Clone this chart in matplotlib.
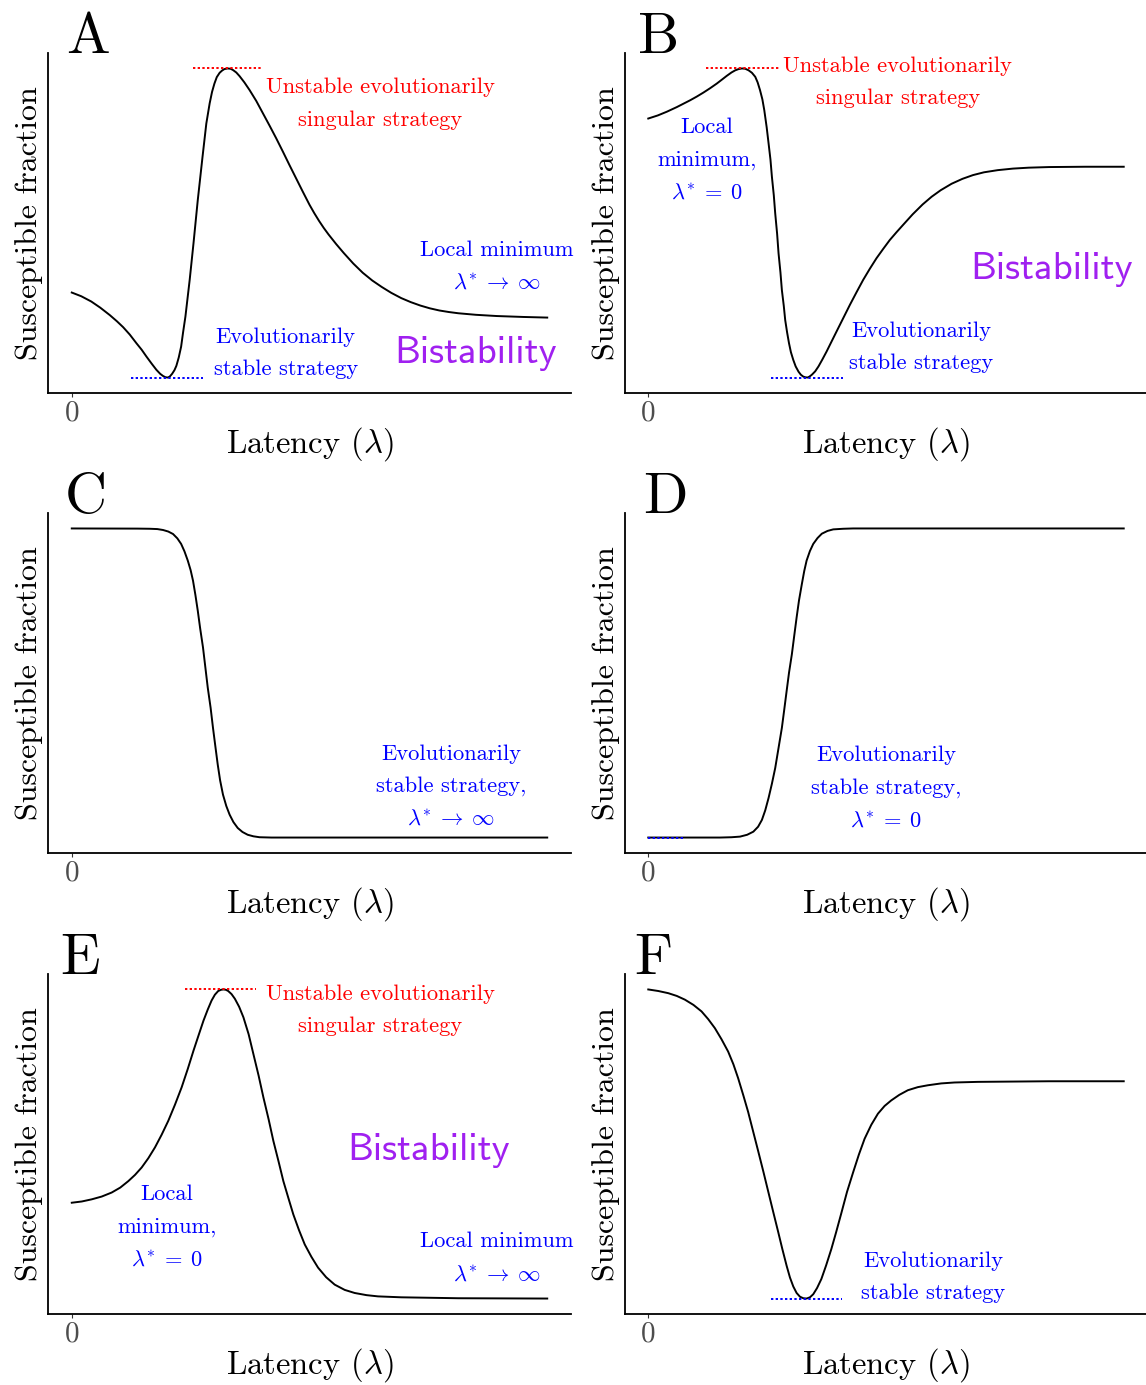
import matplotlib
matplotlib.use("Agg")
import matplotlib.pyplot as plt

plt.rcParams["font.family"] = "cmr10"
plt.rcParams["mathtext.fontset"] = "cm"
plt.rcParams["axes.formatter.use_mathtext"] = True

# ---- curve data (x = latency, y = susceptible fraction, rescaled 0..1)
A_x = [0, 0.2, 0.41, 0.60, 0.80, 0.95, 1.08, 1.22, 1.36, 1.47, 1.57, 1.68, 1.78, 1.86, 1.92,
       1.97, 2.02, 2.06, 2.11, 2.16, 2.20, 2.25, 2.30, 2.34, 2.39, 2.48, 2.56, 2.65, 2.75,
       2.83, 2.90, 2.95, 3.00, 3.05, 3.11, 3.16, 3.21, 3.28, 3.34, 3.39, 3.46, 3.53, 3.63,
       3.74, 3.88, 4.02, 4.16, 4.30, 4.44, 4.58, 4.72, 4.86, 5.0, 5.1, 5.2, 5.3, 5.40, 5.56,
       5.72, 5.92, 6.12, 6.32, 6.52, 6.72, 6.93, 7.13, 7.33, 7.53, 7.73, 7.93, 8.13, 8.5,
       8.94, 9.5, 10.0]
A_y = [0.275, 0.263, 0.246, 0.226, 0.202, 0.182, 0.163, 0.139, 0.111, 0.09, 0.068, 0.045,
       0.025, 0.012, 0.005, 0.001, 0.0, 0.003, 0.012, 0.024, 0.038, 0.065, 0.10, 0.145,
       0.197, 0.316, 0.434, 0.574, 0.714, 0.822, 0.887, 0.924, 0.951, 0.972, 0.986, 0.993,
       0.998, 1.0, 0.999, 0.995, 0.987, 0.975, 0.955, 0.93, 0.895, 0.855, 0.815, 0.774,
       0.731, 0.687, 0.644, 0.601, 0.559, 0.532, 0.507, 0.484, 0.463, 0.432, 0.403, 0.369,
       0.339, 0.314, 0.293, 0.274, 0.257, 0.244, 0.233, 0.224, 0.217, 0.212, 0.208, 0.203,
       0.199, 0.196, 0.194]

B_x = [0, 0.2, 0.39, 0.6, 0.88, 1.02, 1.16, 1.30, 1.44, 1.55, 1.65, 1.75, 1.83, 1.90, 1.97,
       2.04, 2.11, 2.18, 2.25, 2.30, 2.35, 2.40, 2.44, 2.49, 2.53, 2.57, 2.60, 2.64, 2.67,
       2.71, 2.74, 2.78, 2.81, 2.85, 2.88, 2.92, 2.96, 3.00, 3.05, 3.10, 3.16, 3.21, 3.26,
       3.30, 3.35, 3.39, 3.44, 3.51, 3.58, 3.66, 3.75, 3.85, 3.96, 4.10, 4.24, 4.38, 4.52,
       4.66, 4.80, 4.94, 5.08, 5.22, 5.36, 5.56, 5.77, 5.96, 6.15, 6.38, 6.61, 6.83, 7.06,
       7.35, 7.67, 8.0, 8.43, 9.19, 10.0]
B_y = [0.838, 0.848, 0.86, 0.875, 0.897, 0.909, 0.922, 0.936, 0.951, 0.964, 0.976, 0.987,
       0.994, 0.998, 1.0, 0.999, 0.994, 0.986, 0.973, 0.955, 0.93, 0.9, 0.865, 0.81, 0.758,
       0.705, 0.65, 0.59, 0.531, 0.465, 0.402, 0.34, 0.283, 0.232, 0.186, 0.146, 0.111,
       0.082, 0.057, 0.036, 0.019, 0.009, 0.003, 0.001, 0.0, 0.003, 0.009, 0.02, 0.036,
       0.058, 0.084, 0.115, 0.149, 0.192, 0.235, 0.276, 0.316, 0.352, 0.386, 0.416, 0.445,
       0.47, 0.494, 0.528, 0.56, 0.585, 0.606, 0.627, 0.643, 0.655, 0.664, 0.671, 0.676,
       0.679, 0.681, 0.682, 0.682]

C_x = [0, 1.38, 1.64, 1.80, 1.92, 2.03, 2.13, 2.22, 2.30, 2.37, 2.44, 2.50, 2.55, 2.60, 2.65,
       2.70, 2.76, 2.81, 2.86, 2.92, 2.97, 3.02, 3.07, 3.12, 3.18, 3.25, 3.32, 3.40, 3.49,
       3.59, 3.70, 3.82, 3.95, 4.2, 10.0]
C_y = [1.0, 0.9995, 0.999, 0.998, 0.995, 0.99, 0.982, 0.968, 0.95, 0.926, 0.896, 0.865,
       0.831, 0.785, 0.734, 0.677, 0.615, 0.55, 0.485, 0.42, 0.355, 0.295, 0.236, 0.185,
       0.139, 0.102, 0.074, 0.05, 0.031, 0.018, 0.009, 0.004, 0.001, 0.0, 0.0]

D_x = [0, 1.22, 1.51, 1.75, 1.93, 2.08, 2.21, 2.31, 2.39, 2.46, 2.53, 2.60, 2.67, 2.74, 2.81,
       2.86, 2.91, 2.96, 3.02, 3.07, 3.12, 3.17, 3.23, 3.28, 3.33, 3.40, 3.47, 3.56, 3.65,
       3.77, 3.89, 4.1, 4.31, 10.0]
D_y = [0.0, 0.0, 0.0, 0.001, 0.003, 0.009, 0.019, 0.035, 0.057, 0.088, 0.128, 0.174, 0.225,
       0.29, 0.355, 0.414, 0.474, 0.533, 0.593, 0.653, 0.712, 0.767, 0.82, 0.862, 0.896,
       0.927, 0.95, 0.969, 0.983, 0.992, 0.997, 0.999, 1.0, 1.0]

E_x = [0, 0.21, 0.42, 0.63, 0.84, 1.02, 1.19, 1.33, 1.47, 1.61, 1.75, 1.89, 2.03, 2.17, 2.31,
       2.44, 2.56, 2.67, 2.77, 2.86, 2.94, 3.01, 3.08, 3.14, 3.19, 3.24, 3.29, 3.36, 3.43,
       3.52, 3.61, 3.72, 3.82, 3.93, 4.03, 4.14, 4.24, 4.35, 4.45, 4.56, 4.66, 4.78, 4.90,
       5.04, 5.18, 5.35, 5.53, 5.74, 5.95, 6.2, 6.44, 6.93, 8.13, 10.0]
E_y = [0.31, 0.314, 0.321, 0.33, 0.343, 0.359, 0.38, 0.4, 0.424, 0.454, 0.489, 0.53, 0.575,
       0.627, 0.683, 0.743, 0.802, 0.853, 0.899, 0.935, 0.964, 0.983, 0.995, 0.999, 1.0,
       0.999, 0.995, 0.985, 0.97, 0.944, 0.91, 0.855, 0.791, 0.721, 0.651, 0.58, 0.51,
       0.443, 0.38, 0.323, 0.272, 0.221, 0.175, 0.135, 0.10, 0.069, 0.045, 0.028, 0.018,
       0.011, 0.007, 0.004, 0.001, 0.0]

F_x = [0, 0.21, 0.42, 0.60, 0.77, 0.95, 1.12, 1.26, 1.40, 1.54, 1.68, 1.79, 1.89, 2.0, 2.10,
       2.21, 2.31, 2.42, 2.52, 2.63, 2.73, 2.82, 2.91, 2.98, 3.05, 3.12, 3.19, 3.26, 3.33,
       3.40, 3.47, 3.55, 3.64, 3.74, 3.85, 3.95, 4.06, 4.18, 4.31, 4.43, 4.55, 4.69, 4.83,
       4.97, 5.11, 5.28, 5.46, 5.67, 5.88, 6.16, 6.44, 6.93, 8.43, 10.0]
F_y = [1.0, 0.995, 0.988, 0.979, 0.967, 0.95, 0.929, 0.904, 0.875, 0.839, 0.799, 0.758, 0.713,
       0.657, 0.604, 0.538, 0.478, 0.411, 0.348, 0.279, 0.217, 0.16, 0.106, 0.068, 0.039,
       0.018, 0.006, 0.001, 0.0, 0.004, 0.014, 0.034, 0.063, 0.107, 0.16, 0.214, 0.276,
       0.345, 0.409, 0.466, 0.517, 0.562, 0.598, 0.623, 0.641, 0.659, 0.674, 0.684, 0.69,
       0.696, 0.699, 0.701, 0.703, 0.703]

# dotted markers at singular strategies: (x_start, x_end, y)
A_red = (2.54, 4.03, 1.0)
A_blue = (1.24, 2.75, 0.0)
B_red = (1.22, 2.74, 1.0)
B_blue = (2.58, 4.10, 0.0)
D_blue = (0.0, 0.75, 0.0)
E_red = (2.39, 3.87, 1.0)
F_blue = (2.58, 4.07, 0.0)

RED = "#FF0000"
BLUE = "#0000FF"
PURPLE = "#A020F0"

LAM_INF = "$\\lambda^{*}\\:\\rightarrow\\:\\infty$"
LAM_ZERO = "$\\lambda^{*}\\:=\\:0$"

# annotations: (x, y, text, colour)
A_notes = [(6.49, 0.886, "Unstable evolutionarily\nsingular strategy", RED),
           (8.93, 0.36, "Local minimum\n" + LAM_INF, BLUE),
           (4.50, 0.078, "Evolutionarily\nstable strategy", BLUE)]
B_notes = [(5.25, 0.955, "Unstable evolutionarily\nsingular strategy", RED),
           (1.24, 0.704, "Local\nminimum,\n" + LAM_ZERO, BLUE),
           (5.74, 0.098, "Evolutionarily\nstable strategy", BLUE)]
C_notes = [(7.98, 0.165, "Evolutionarily\nstable strategy,\n" + LAM_INF, BLUE)]
D_notes = [(5.0, 0.159, "Evolutionarily\nstable strategy,\n" + LAM_ZERO, BLUE)]
E_notes = [(6.49, 0.933, "Unstable evolutionarily\nsingular strategy", RED),
           (2.0, 0.23, "Local\nminimum,\n" + LAM_ZERO, BLUE),
           (8.93, 0.131, "Local minimum\n" + LAM_INF, BLUE)]
F_notes = [(5.99, 0.07, "Evolutionarily\nstable strategy", BLUE)]

# "Bistability" label positions (None = no label)
A_bist = (8.49, 0.077)
B_bist = (8.49, 0.348)
E_bist = (7.5, 0.48)

W, H = 1146, 1385
fig = plt.figure(figsize=(W / 100, H / 100), dpi=100)

col_left = [48, 624.5]
row_bottom = [393, 853, 1314]
ax_w, ax_h = 523, 340

panels = [
    ("A", A_x, A_y, [A_red, A_blue], A_notes, A_bist, 0, 0, 66),
    ("B", B_x, B_y, [B_red, B_blue], B_notes, B_bist, 1, 0, 638),
    ("C", C_x, C_y, [], C_notes, None, 0, 1, 65),
    ("D", D_x, D_y, [D_blue], D_notes, None, 1, 1, 643),
    ("E", E_x, E_y, [E_red], E_notes, E_bist, 0, 2, 60),
    ("F", F_x, F_y, [F_blue], F_notes, None, 1, 2, 634),
]

for letter, xs, ys, segs, notes, bist, c, r, letter_x in panels:
    left = col_left[c]
    bottom = row_bottom[r]
    ax = fig.add_axes([left / W, 1 - bottom / H, ax_w / W, ax_h / H])
    ax.plot(xs, ys, color="black", lw=1.4, solid_joinstyle="round")
    for x0, x1, yy in segs:
        col = RED if yy >= 1 else BLUE
        ax.plot([x0, x1], [yy, yy], color=col, lw=1.4, linestyle=(0, (1.2, 1.2)))
    for tx, ty, txt, col in notes:
        ax.text(tx, ty, txt, color=col, fontsize=16.2, ha="center", va="center",
                linespacing=1.82)
    if bist is not None:
        ax.text(bist[0], bist[1], "Bistability", color=PURPLE, fontsize=28,
                family="cmss10", ha="center", va="center")
    ax.set_xlim(-0.5, 10.5)
    ax.set_ylim(-0.05, 1.05)
    ax.spines["top"].set_visible(False)
    ax.spines["right"].set_visible(False)
    for s in ("left", "bottom"):
        ax.spines[s].set_linewidth(1.3)
    ax.set_xticks([0])
    ax.set_xticklabels(["0"])
    ax.set_yticks([])
    ax.tick_params(axis="x", length=3, width=0.8, color="#333333",
                   labelcolor="#4D4D4D", labelsize=21, pad=2)
    ax.set_xlabel("Latency ($\\lambda$)", fontsize=23.5, labelpad=-1)
    ax.set_ylabel("Susceptible fraction", fontsize=23, labelpad=3.5)
    fig.text(letter_x / W, 1 - (bottom - ax_h) / H, letter, fontsize=42,
             ha="left", va="baseline")

fig.savefig("out.png", dpi=100)
